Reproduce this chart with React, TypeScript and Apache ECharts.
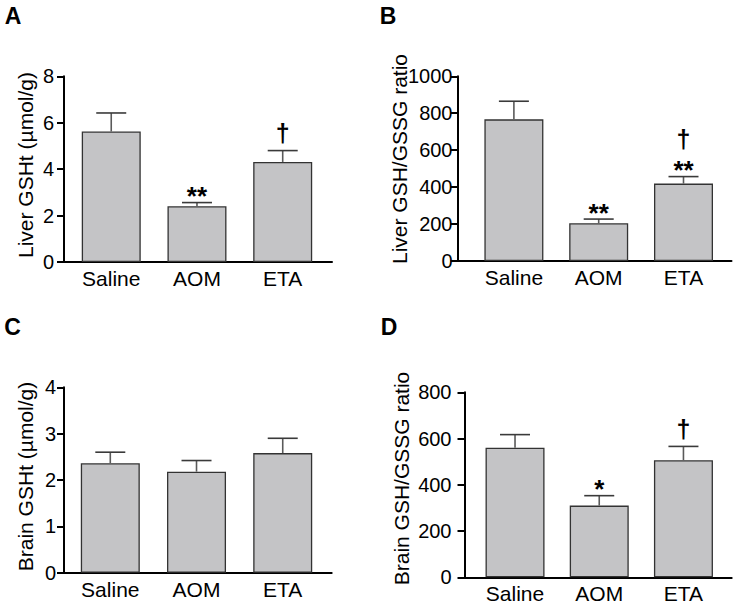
import React, { useEffect, useRef } from "react";
import * as echarts from "echarts";

const categories = ["Saline", "AOM", "ETA"];

const liverGSHtMean = [5.62, 2.4, 4.31];
const liverGSHtSEM = [0.8, 0.16, 0.49];
const liverGSHtSig = [[], ["**"], ["†"]];

const liverRatioMean = [767, 204, 419];
const liverRatioSEM = [98, 23, 38];
const liverRatioSig = [[], ["**"], ["**", "†"]];

const brainGSHtMean = [2.36, 2.18, 2.58];
const brainGSHtSEM = [0.24, 0.24, 0.32];
const brainGSHtSig = [[], [], []];

const brainRatioMean = [560, 310, 506];
const brainRatioSEM = [57, 43, 60];
const brainRatioSig = [[], ["*"], ["†"]];

const FONT = "'Liberation Sans', Arial, Helvetica, sans-serif";

type Panel = {
  letter: string;
  letterPos: [number, number];
  title: string;
  titlePos: [number, number];
  mean: number[];
  sem: number[];
  sig: string[][];
  yMax: number;
  yInterval: number;
  grid: { left: number; top: number; width: number; height: number };
  xMin: number;
  xMax: number;
  labelMargin: number;
};

const panels: Panel[] = [
  {
    letter: "A",
    letterPos: [13, 15.5],
    title: "Liver GSHt (µmol/g)",
    titlePos: [25, 165],
    mean: liverGSHtMean,
    sem: liverGSHtSEM,
    sig: liverGSHtSig,
    yMax: 8,
    yInterval: 2,
    grid: { left: 64, top: 76.3, width: 268, height: 185.7 },
    xMin: -0.551,
    xMax: 2.575,
    labelMargin: 10,
  },
  {
    letter: "B",
    letterPos: [388, 16],
    title: "Liver GSH/GSSG ratio",
    titlePos: [399.5, 159],
    mean: liverRatioMean,
    sem: liverRatioSEM,
    sig: liverRatioSig,
    yMax: 1000,
    yInterval: 200,
    grid: { left: 457.5, top: 76.3, width: 274, height: 184.7 },
    xMin: -0.665,
    xMax: 2.566,
    labelMargin: 5,
  },
  {
    letter: "C",
    letterPos: [12.5, 326.5],
    title: "Brain GSHt (µmol/g)",
    titlePos: [25, 476.5],
    mean: brainGSHtMean,
    sem: brainGSHtSEM,
    sig: brainGSHtSig,
    yMax: 4,
    yInterval: 1,
    grid: { left: 64, top: 387.3, width: 267.7, height: 185.4 },
    xMin: -0.537,
    xMax: 2.568,
    labelMargin: 8,
  },
  {
    letter: "D",
    letterPos: [389, 326.5],
    title: "Brain GSH/GSSG ratio",
    titlePos: [401, 478.5],
    mean: brainRatioMean,
    sem: brainRatioSEM,
    sig: brainRatioSig,
    yMax: 800,
    yInterval: 200,
    grid: { left: 464.5, top: 392.3, width: 267.2, height: 185 },
    xMin: -0.6,
    xMax: 2.573,
    labelMargin: 13,
  },
];

function makeRenderItem(sig: string[][]) {
  return (params: any, api: any) => {
    const x = api.value(0);
    const m = api.value(1);
    const e = api.value(2);
    const base = api.coord([x, m]);
    const top = api.coord([x, m + e]);
    const children: any[] = [
      {
        type: "line",
        shape: { x1: base[0], y1: base[1], x2: top[0], y2: top[1] },
        style: { stroke: "#5a5a5a", lineWidth: 1.6 },
      },
      {
        type: "line",
        shape: { x1: top[0] - 15, y1: top[1], x2: top[0] + 15, y2: top[1] },
        style: { stroke: "#3a3a3a", lineWidth: 1.6 },
      },
    ];
    let cursor = top[1] - 6;
    for (const s of sig[params.dataIndex] || []) {
      if (s === "†") {
        const fs = 25;
        const center = cursor - 9.5;
        children.push({
          type: "text",
          style: {
            text: s,
            x: top[0],
            y: center - 0.085 * fs,
            align: "center",
            verticalAlign: "middle",
            font: `bold ${fs}px ${FONT}`,
            fill: "#000",
          },
        });
        cursor = center - 19;
      } else {
        const fs = 26;
        const center = top[1] - 12.5;
        children.push({
          type: "text",
          style: {
            text: s,
            x: top[0],
            y: center + 0.235 * fs,
            align: "center",
            verticalAlign: "middle",
            font: `bold ${fs}px ${FONT}`,
            fill: "#000",
          },
        });
        cursor = top[1] - 26;
      }
    }
    return { type: "group", children };
  };
}

export default function App() {
  const ref = useRef<HTMLDivElement>(null);
  useEffect(() => {
    if (!ref.current) return;
    const chart = echarts.init(ref.current, undefined, { renderer: "svg" });
    const grid = panels.map((p) => ({ ...p.grid, containLabel: false, outerBoundsMode: "none" }));
    const xAxis = panels.map((p, i) => ({
      gridIndex: i,
      type: "value",
      min: p.xMin,
      max: p.xMax,
      axisLine: { show: true, onZero: false, lineStyle: { color: "#000", width: 2 } },
      axisTick: { show: false },
      splitLine: { show: false },
      axisLabel: {
        customValues: [0, 1, 2],
        formatter: (v: number) => categories[Math.round(v)] ?? "",
        fontSize: 21,
        fontFamily: FONT,
        color: "#000",
        margin: 6,
      },
    }));
    const yAxis = panels.map((p, i) => ({
      gridIndex: i,
      type: "value",
      min: 0,
      max: p.yMax,
      interval: p.yInterval,
      axisLine: { show: true, onZero: false, lineStyle: { color: "#000", width: 2 } },
      axisTick: { show: true, length: 7, lineStyle: { color: "#000", width: 2 } },
      splitLine: { show: false },
      axisLabel: {
        fontSize: 20,
        fontFamily: FONT,
        color: "#000",
        margin: p.labelMargin,
        formatter: (v: number) => String(v),
      },
    }));
    const series: any[] = [];
    panels.forEach((p, i) => {
      series.push({
        type: "bar",
        xAxisIndex: i,
        yAxisIndex: i,
        data: p.mean.map((v, j) => [j, v]),
        barWidth: 59,
        itemStyle: { color: "#c4c4c6", borderColor: "#333", borderWidth: 1.3 },
        z: 2,
      });
      series.push({
        type: "custom",
        xAxisIndex: i,
        yAxisIndex: i,
        data: p.mean.map((v, j) => [j, v, p.sem[j]]),
        encode: { x: 0, y: 1 },
        renderItem: makeRenderItem(p.sig),
        z: 3,
      });
    });
    const graphic: any[] = [];
    panels.forEach((p) => {
      graphic.push({
        type: "text",
        x: p.letterPos[0],
        y: p.letterPos[1],
        style: {
          text: p.letter,
          align: "center",
          verticalAlign: "middle",
          font: `bold 23px ${FONT}`,
          fill: "#000",
        },
      });
      graphic.push({
        type: "text",
        x: p.titlePos[0],
        y: p.titlePos[1],
        rotation: Math.PI / 2,
        style: {
          text: p.title,
          align: "center",
          verticalAlign: "middle",
          font: `21px ${FONT}`,
          fill: "#000",
        },
      });
    });
    chart.setOption({
      animation: false,
      backgroundColor: "#fff",
      grid,
      xAxis,
      yAxis,
      series,
      graphic,
    });
    return () => chart.dispose();
  }, []);
  return (
    <div
      ref={ref}
      style={{ position: "fixed", left: 0, top: 0, width: 738, height: 607 }}
    />
  );
}
